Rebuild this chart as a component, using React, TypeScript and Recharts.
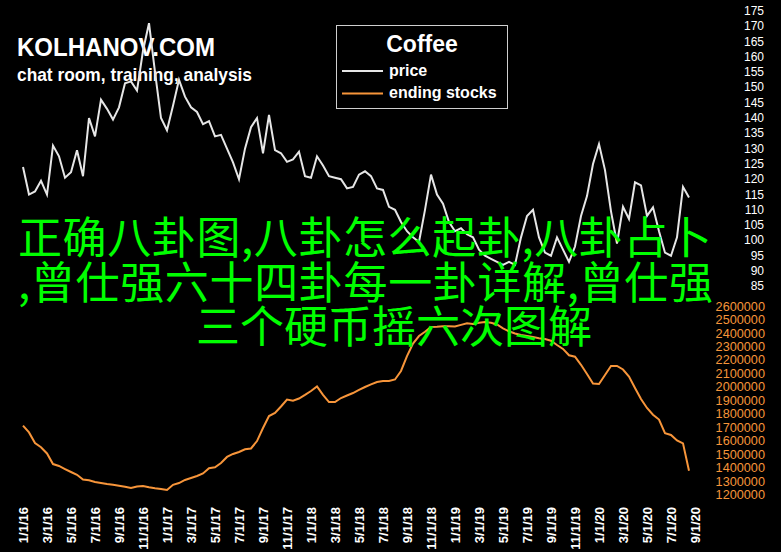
import { LineChart, Line, XAxis, YAxis, Legend } from "recharts";

// coffee price, cents/lb, twice a month from 1/1/16
const price = [
  124, 115, 116, 119.5, 115, 131, 127.5, 120.5, 122.3, 129.5, 121, 140, 134, 146, 143, 139.5,
  143.5, 151.4, 152, 149, 162, 171, 155, 140, 136, 144, 152.5, 147, 143.5, 142, 138, 139,
  134, 134.5, 130, 125.5, 120, 130, 137, 140, 128.5, 141, 129.5, 128.5, 125.7, 126.5, 129, 121,
  120.5, 127.5, 124.5, 121, 120.5, 120, 117, 117.5, 121.5, 122.6, 121, 117, 116.5, 111, 110, 106,
  103, 101, 99.5, 110, 121.5, 115, 112, 106, 103, 104, 102, 101, 97, 95, 94, 93,
  92, 93, 92, 101, 108, 110, 101, 96, 95, 101, 97, 93, 98, 108, 114.5, 125,
  131.5, 123, 109.5, 99, 111, 107, 119, 118, 108, 110.8, 103, 96, 95, 101, 117.5, 114,
];

// ending stocks, bags
const endingStocks = [
  1716000, 1665000, 1587000, 1555000, 1509000, 1430000, 1416000, 1393000,
  1371000, 1350000, 1315000, 1309000, 1297000, 1290000, 1282000, 1276000,
  1269000, 1262000, 1252000, 1263000, 1267000, 1257000, 1250000, 1245000,
  1237000, 1276000, 1289000, 1312000, 1326000, 1341000, 1360000, 1399000,
  1406000, 1438000, 1483000, 1505000, 1520000, 1540000, 1546000, 1601000,
  1698000, 1787000, 1810000, 1858000, 1910000, 1901000, 1917000, 1944000,
  1973000, 2007000, 1944000, 1891000, 1891000, 1921000, 1940000, 1958000,
  1981000, 2003000, 2022000, 2040000, 2048000, 2048000, 2059000, 2122000,
  2233000, 2326000, 2382000, 2414000, 2449000, 2451000, 2454000, 2455000,
  2453000, 2465000, 2477000, 2471000, 2480000, 2486000, 2480000, 2468000,
  2439000, 2417000, 2401000, 2390000, 2382000, 2375000, 2366000, 2360000,
  2347000, 2315000, 2286000, 2239000, 2228000, 2168000, 2100000, 2029000,
  2025000, 2092000, 2159000, 2159000, 2133000, 2081000, 1996000, 1914000,
  1847000, 1797000, 1761000, 1659000, 1646000, 1605000, 1584000, 1380000,
];

// half-month dates 1/1/16 .. 9/1/20 (axis runs one step past the last value)
const dates: string[] = [];
for (const yr of [16, 17, 18, 19, 20])
  for (let m = 1; m <= 12; m++)
    for (const d of [1, 15])
      if (dates.length <= price.length) dates.push(`${m}/${d}/${yr}`);

const priceTicks = [85, 90, 95, 100, 105, 110, 115, 120, 125, 130, 135, 140, 145, 150, 155, 160, 165, 170, 175];
const stockTicks = [
  1200000, 1300000, 1400000, 1500000, 1600000, 1700000, 1800000, 1900000,
  2000000, 2100000, 2200000, 2300000, 2400000, 2500000, 2600000,
];

const title = "Coffee";
const headline = ["KOLHANOV.COM", "chat room, training, analysis"];
const overlay = [
  "正确八卦图,八卦怎么起卦,八卦占卜",
  ",曾仕强六十四卦每一卦详解,曾仕强",
  "三个硬币摇六次图解",
];

const data = dates.map((date, i) => ({
  date,
  price: price[i],
  stocks: endingStocks[i],
}));

const FONT = "'Liberation Sans', Arial, sans-serif";
const PRICE_COLOR = "#e6e6e6";
const STOCK_COLOR = "#f7953a";

const DateTick = ({ x, y, payload }: any) => (
  <text
    x={x}
    y={y}
    transform={`rotate(-90, ${x}, ${y})`}
    textAnchor="end"
    dominantBaseline="central"
    fill="#fff"
    fontSize={13}
    fontWeight="bold"
    fontFamily={FONT}
  >
    {payload.value}
  </text>
);

const rightTick =
  (dx: number, color: string, size: number) =>
  ({ x, y, payload }: any) => (
    <text
      x={x + dx}
      y={y}
      textAnchor="end"
      dominantBaseline="central"
      fill={color}
      fontSize={size}
      fontFamily={FONT}
    >
      {payload.value}
    </text>
  );

const LegendBox = () => (
  <svg width={172} height={84} style={{ display: "block" }}>
    <rect x={0.5} y={0.5} width={171} height={83} fill="#000" stroke="#cfcfcf" />
    <text x={86} y={27} textAnchor="middle" fill="#fff" fontSize={23} fontWeight="bold" fontFamily={FONT}>
      {title}
    </text>
    <line x1={6} x2={47} y1={46} y2={46} stroke={PRICE_COLOR} strokeWidth={2} />
    <text x={53} y={51} fill="#fff" fontSize={16} fontWeight="bold" fontFamily={FONT}>
      price
    </text>
    <line x1={6} x2={47} y1={68.5} y2={68.5} stroke={STOCK_COLOR} strokeWidth={2} />
    <text x={53} y={73} fill="#fff" fontSize={16} fontWeight="bold" fontFamily={FONT}>
      ending stocks
    </text>
  </svg>
);

export default function App() {
  return (
    <div style={{ position: "absolute", left: 0, top: 0, width: 781, height: 552, background: "#000" }}>
      <svg width={781} height={552} style={{ position: "absolute", left: 0, top: 0 }}>
        <text x={17} y={56} textLength={198} lengthAdjust="spacingAndGlyphs" fill="#fff" fontSize={26} fontWeight="bold" fontFamily={FONT}>
          {headline[0]}
        </text>
        <text x={17} y={81} textLength={235} lengthAdjust="spacingAndGlyphs" fill="#fff" fontSize={18.5} fontWeight="bold" fontFamily={FONT}>
          {headline[1]}
        </text>
      </svg>
      <LineChart
        width={781}
        height={552}
        data={data}
        margin={{ top: 5, right: 0, bottom: 0, left: 23 }}
        style={{ position: "absolute", left: 0, top: 0 }}
      >
        <XAxis
          dataKey="date"
          interval={3}
          height={52}
          tickLine={false}
          axisLine={false}
          tickSize={0}
          tickMargin={7}
          tick={<DateTick />}
        />
        <YAxis
          yAxisId="price"
          orientation="right"
          width={43}
          type="number"
          domain={[15.14, 176.96]}
          ticks={priceTicks}
          interval={0}
          tickLine={false}
          axisLine={false}
          tickSize={0}
          tickMargin={0}
          tick={rightTick(69, "#fff", 12)}
        />
        <YAxis
          yAxisId="stocks"
          orientation="right"
          width={43}
          type="number"
          domain={[1162800, 4843100]}
          ticks={stockTicks}
          interval={0}
          tickLine={false}
          axisLine={false}
          tickSize={0}
          tickMargin={0}
          tick={rightTick(27, STOCK_COLOR, 12.7)}
        />
        <Legend
          layout="horizontal"
          verticalAlign="middle"
          align="center"
          content={<LegendBox />}
          wrapperStyle={{ position: "absolute", left: 336, top: 25, width: 172, height: 84 }}
        />
        <Line
          yAxisId="stocks"
          dataKey="stocks"
          type="linear"
          stroke={STOCK_COLOR}
          strokeWidth={2}
          dot={false}
          isAnimationActive={false}
        />
        <Line
          yAxisId="price"
          dataKey="price"
          type="linear"
          stroke={PRICE_COLOR}
          strokeWidth={2}
          dot={false}
          isAnimationActive={false}
        />
      </LineChart>
      <svg width={781} height={552} style={{ position: "absolute", left: 0, top: 0, pointerEvents: "none" }}>
        <g fill="#00ff00" fontSize={44} fontFamily="'Noto Sans CJK SC', sans-serif">
          <text x={18} y={254} textLength={694} lengthAdjust="spacing">
            {overlay[0]}
          </text>
          <text x={18} y={298.5} textLength={695} lengthAdjust="spacing">
            {overlay[1]}
          </text>
          <text x={394} y={343} textAnchor="middle">
            {overlay[2]}
          </text>
        </g>
      </svg>
    </div>
  );
}
